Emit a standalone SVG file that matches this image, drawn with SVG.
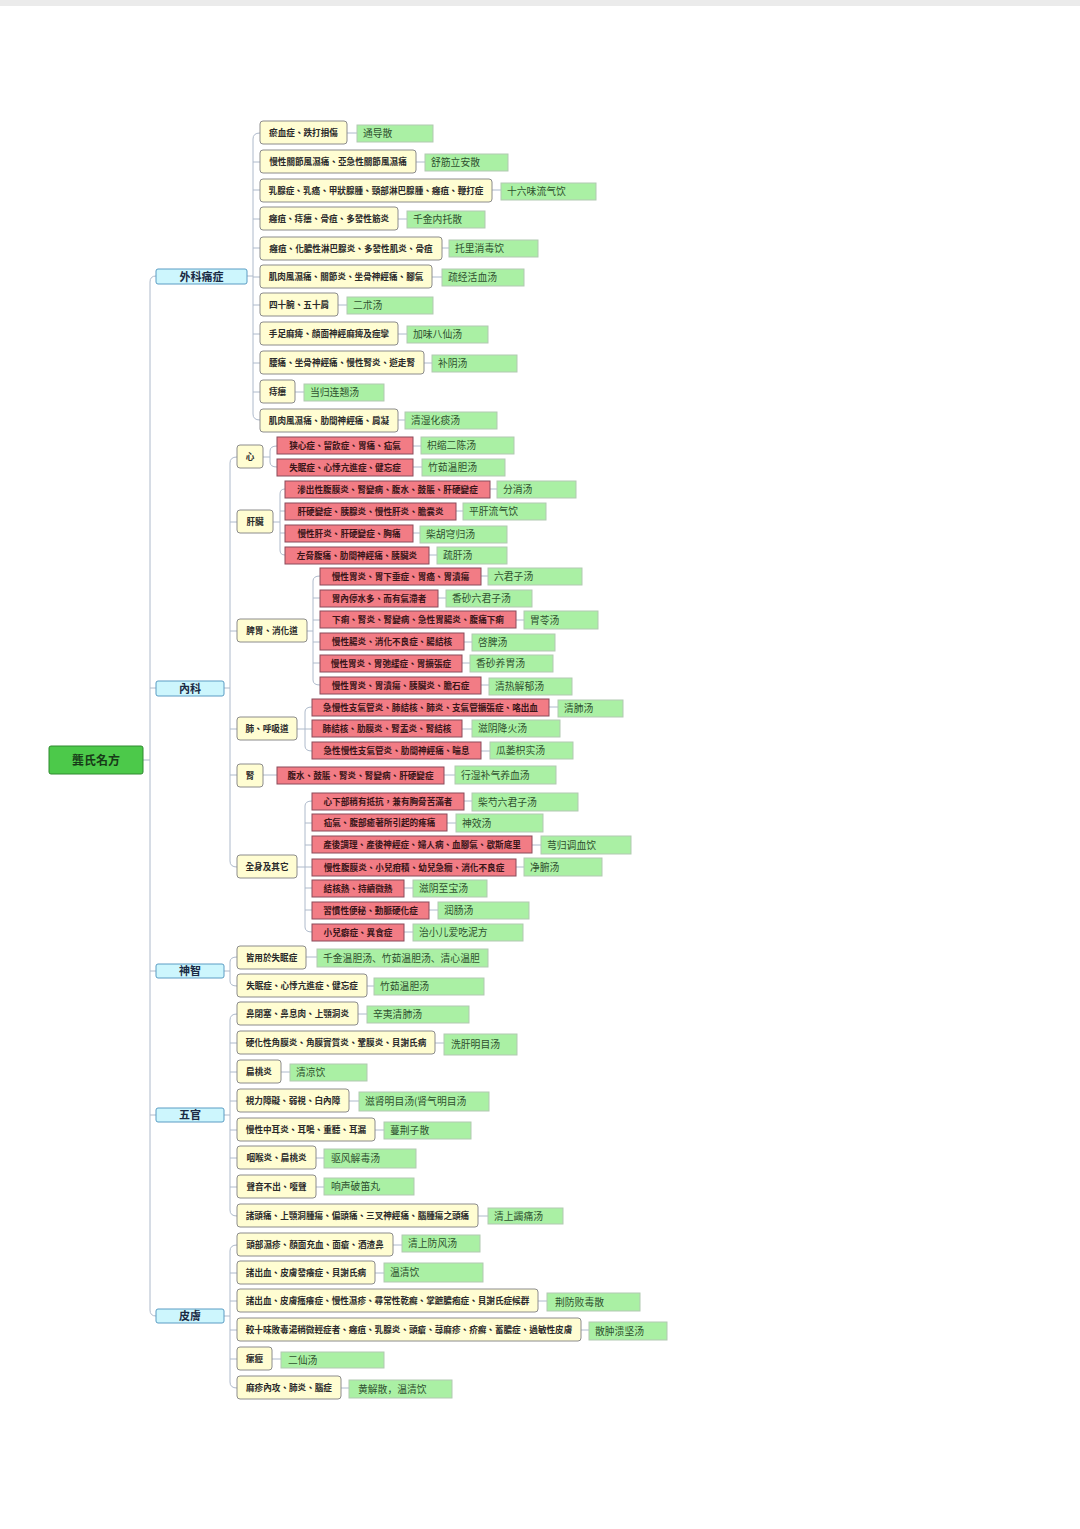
<svg xmlns="http://www.w3.org/2000/svg" width="1080" height="1529" viewBox="0 0 1080 1529">
<style>
.bg{fill:#ffffff}
.y{fill:#fffdd2;stroke:#8c8c8c;stroke-width:1}
.r{fill:#f27c85;stroke:#8a4a5a;stroke-width:1}
.g{fill:#aaf0a4;stroke:#b2c9b2;stroke-width:1}
.c{fill:#cdf6fd;stroke:#5a9cc4;stroke-width:1}
.rt{fill:#4cc94a;stroke:#2e8a2e;stroke-width:1}
.t{font-family:"Noto Sans CJK TC","Noto Sans CJK SC",sans-serif;font-size:8.6px;font-weight:bold;fill:#2a2a2a;text-anchor:middle}
.tr{fill:#3a1518}
.tg{font-family:"Noto Sans CJK SC","Noto Sans CJK TC",sans-serif;font-size:9.8px;fill:#2f502f}
.tc{font-family:"Noto Sans CJK TC","Noto Sans CJK SC",sans-serif;font-size:11px;font-weight:bold;fill:#1a2a44;text-anchor:middle}
.tt{font-family:"Noto Sans CJK TC","Noto Sans CJK SC",sans-serif;font-size:12px;font-weight:bold;fill:#173a17;text-anchor:middle}
.ln{fill:none;stroke:#aebacb;stroke-width:1}
</style>
<rect class="bg" x="0" y="0" width="1080" height="1529"/>
<rect x="0" y="0" width="1080" height="6" fill="#ebebeb"/>

<g id="connectors">
<path class="ln" d="M143,760 H150 M156,276 Q150,276 150,282 V1310 Q150,1316 156,1316 M150,688 H156 M150,971 H156 M150,1115 H156"/>
<path class="ln" d="M247,276 H253 M260,133 Q253,133 253,139 V414 Q253,420 260,420 M253,162 H260 M253,190 H260 M253,219 H260 M253,248 H260 M253,277 H260 M253,305 H260 M253,334 H260 M253,363 H260 M253,392 H260"/>
<path class="ln" d="M347,133 H357 M416,162 H425 M492,190 H501 M398,219 H407 M442,248 H449 M432,277 H442 M338,305 H347 M398,334 H407 M424,363 H432 M295,392 H304 M398,420 H405"/>
<path class="ln" d="M224,688 H230 M237,457 Q230,457 230,463 V861 Q230,867 237,867 M230,522 H237 M230,631 H237 M230,729 H237 M230,775 H237"/>
<path class="ln" d="M263,457 H270 M277,446 Q270,446 270,451 V462 Q270,467 277,467"/>
<path class="ln" d="M273,522 H280 M285,489 Q280,489 280,494 V550 Q280,555 285,555 M280,511 H285 M280,533 H285"/>
<path class="ln" d="M307,631 H313 M320,576 Q313,576 313,581 V680 Q313,685 320,685 M313,598 H320 M313,620 H320 M313,642 H320 M313,663 H320"/>
<path class="ln" d="M297,729 H305 M312,707 Q305,707 305,712 V746 Q305,751 312,751 M305,729 H312"/>
<path class="ln" d="M263,775 H277"/>
<path class="ln" d="M297,867 H305 M312,801 Q305,801 305,806 V927 Q305,932 312,932 M305,823 H312 M305,845 H312 M305,867 H312 M305,888 H312 M305,910 H312"/>
<path class="ln" d="M413,446 H421 M413,467 H422 M490,489 H497 M456,511 H463 M413,533 H420 M429,555 H437 M481,576 H488 M438,598 H446 M516,620 H524 M464,642 H472 M462,663 H470 M481,685 H489 M549,707 H558 M462,729 H472 M481,751 H490 M444,775 H455 M464,801 H472 M447,823 H456 M532,845 H541 M516,867 H524 M404,888 H413 M429,910 H438 M404,932 H413"/>
<path class="ln" d="M224,971 H230 M237,957 Q230,957 230,962 V981 Q230,986 237,986 M306,957 H317 M367,986 H374"/>
<path class="ln" d="M224,1115 H230 M237,1014 Q230,1014 230,1020 V1210 Q230,1216 237,1216 M230,1043 H237 M230,1072 H237 M230,1101 H237 M230,1130 H237 M230,1158 H237 M230,1187 H237"/>
<path class="ln" d="M358,1014 H367 M435,1043 H444 M281,1072 H290 M349,1101 H359 M375,1130 H384 M316,1158 H324 M316,1187 H324 M478,1216 H488"/>
<path class="ln" d="M224,1316 H230 M237,1245 Q230,1245 230,1251 V1382 Q230,1388 237,1388 M230,1273 H237 M230,1301 H237 M230,1330 H237 M230,1359 H237"/>
<path class="ln" d="M393,1245 H402 M375,1273 H384 M538,1301 H547 M581,1330 H589 M272,1359 H281 M341,1388 H349"/>
</g>

<g id="root"><rect class="rt" x="49" y="746" width="94" height="28" rx="2"/><text class="tt" x="96" y="764.5">龔氏名方</text></g>

<g id="waike"><rect class="c" x="156" y="269" width="91" height="15" rx="2"/><text class="tc" x="201.5" y="280.5">外科痛症</text></g>
<g id="neike"><rect class="c" x="156" y="681" width="68" height="15" rx="2"/><text class="tc" x="190" y="692.5">內科</text></g>
<g id="shenzhi"><rect class="c" x="156" y="964" width="68" height="14" rx="2"/><text class="tc" x="190" y="975">神智</text></g>
<g id="wuguan"><rect class="c" x="156" y="1108" width="68" height="14" rx="2"/><text class="tc" x="190" y="1119">五官</text></g>
<g id="pifu"><rect class="c" x="156" y="1309" width="68" height="14" rx="2"/><text class="tc" x="190" y="1320">皮膚</text></g>

<g id="w1"><rect class="y" x="260" y="121" width="87" height="23" rx="3"/><text class="t" x="303.5" y="135.7">瘀血症、跌打損傷</text><rect class="g" x="357" y="125" width="76" height="17"/><text class="tg" x="363" y="137.1">通导散</text></g>
<g id="w2"><rect class="y" x="260" y="150" width="156" height="23" rx="3"/><text class="t" x="338" y="164.7">慢性關節風濕痛、亞急性關節風濕痛</text><rect class="g" x="425" y="154" width="83" height="17"/><text class="tg" x="431" y="166.1">舒筋立安散</text></g>
<g id="w3"><rect class="y" x="260" y="179" width="232" height="23" rx="3"/><text class="t" x="376" y="193.7">乳腺症、乳癌、甲狀腺腫、頸部淋巴腺腫、癰疽、鞭打症</text><rect class="g" x="501" y="183" width="95" height="17"/><text class="tg" x="507" y="195.1">十六味流气饮</text></g>
<g id="w4"><rect class="y" x="260" y="207" width="138" height="23" rx="3"/><text class="t" x="329" y="221.7">癰疽、痔瘻、骨疽、多發性筋炎</text><rect class="g" x="407" y="211" width="78" height="17"/><text class="tg" x="413" y="223.1">千金内托散</text></g>
<g id="w5"><rect class="y" x="260" y="237" width="182" height="23" rx="3"/><text class="t" x="351" y="251.7">癰疽、化膿性淋巴腺炎、多發性肌炎、骨疽</text><rect class="g" x="449" y="240" width="89" height="17"/><text class="tg" x="455" y="252.1">托里消毒饮</text></g>
<g id="w6"><rect class="y" x="260" y="265" width="172" height="23" rx="3"/><text class="t" x="346" y="279.7">肌肉風濕痛、關節炎、坐骨神經痛、腳氣</text><rect class="g" x="442" y="269" width="82" height="17"/><text class="tg" x="448" y="281.1">疏经活血汤</text></g>
<g id="w7"><rect class="y" x="260" y="293" width="78" height="23" rx="3"/><text class="t" x="299" y="307.7">四十腕、五十肩</text><rect class="g" x="347" y="297" width="86" height="17"/><text class="tg" x="353" y="309.1">二朮汤</text></g>
<g id="w8"><rect class="y" x="260" y="322" width="138" height="23" rx="3"/><text class="t" x="329" y="336.7">手足麻痺、顔面神經麻痺及痙攣</text><rect class="g" x="407" y="326" width="81" height="17"/><text class="tg" x="413" y="338.1">加味八仙汤</text></g>
<g id="w9"><rect class="y" x="260" y="351" width="164" height="23" rx="3"/><text class="t" x="342" y="365.7">腰痛、坐骨神經痛、慢性腎炎、遊走腎</text><rect class="g" x="432" y="355" width="85" height="17"/><text class="tg" x="438" y="367.1">补阴汤</text></g>
<g id="w10"><rect class="y" x="260" y="380" width="35" height="23" rx="3"/><text class="t" x="277.5" y="394.7">痔瘻</text><rect class="g" x="304" y="384" width="80" height="17"/><text class="tg" x="310" y="396.1">当归连翘汤</text></g>
<g id="w11"><rect class="y" x="260" y="409" width="138" height="23" rx="3"/><text class="t" x="329" y="423.7">肌肉風濕痛、肋間神經痛、肩凝</text><rect class="g" x="405" y="412" width="92" height="17"/><text class="tg" x="411" y="424.1">清湿化痰汤</text></g>

<g id="xin"><rect class="y" x="237" y="445" width="26" height="23" rx="3"/><text class="t" x="250" y="459.7">心</text></g>
<g id="ganzang"><rect class="y" x="237" y="510" width="36" height="23" rx="3"/><text class="t" x="255" y="524.7">肝臟</text></g>
<g id="piwei"><rect class="y" x="237" y="619" width="70" height="23" rx="3"/><text class="t" x="272" y="633.7">脾胃、消化道</text></g>
<g id="fei"><rect class="y" x="237" y="717" width="60" height="23" rx="3"/><text class="t" x="267" y="731.7">肺、呼吸道</text></g>
<g id="shen"><rect class="y" x="237" y="764" width="26" height="23" rx="3"/><text class="t" x="250" y="778.7">腎</text></g>
<g id="quanshen"><rect class="y" x="237" y="855" width="60" height="23" rx="3"/><text class="t" x="267" y="869.7">全身及其它</text></g>

<g id="x1"><rect class="r" x="277" y="437" width="136" height="17"/><text class="t tr" x="345" y="448.7">狭心症、留飲症、胃痛、疝氣</text><rect class="g" x="421" y="437" width="93" height="17"/><text class="tg" x="427" y="449.1">枳缩二陈汤</text></g>
<g id="x2"><rect class="r" x="277" y="459" width="136" height="17"/><text class="t tr" x="345" y="470.7">失眠症、心悸亢進症、健忘症</text><rect class="g" x="422" y="459" width="83" height="17"/><text class="tg" x="428" y="471.1">竹茹温胆汤</text></g>
<g id="g1"><rect class="r" x="285" y="481" width="205" height="17"/><text class="t tr" x="387.5" y="492.7">滲出性腹膜炎、腎變病、腹水、鼓脹、肝硬變症</text><rect class="g" x="497" y="481" width="79" height="17"/><text class="tg" x="503" y="493.1">分消汤</text></g>
<g id="g2"><rect class="r" x="285" y="503" width="171" height="17"/><text class="t tr" x="370.5" y="514.7">肝硬變症、胰腺炎、慢性肝炎、膽囊炎</text><rect class="g" x="463" y="503" width="83" height="17"/><text class="tg" x="469" y="515.1">平肝流气饮</text></g>
<g id="g3"><rect class="r" x="285" y="525" width="128" height="17"/><text class="t tr" x="349" y="536.7">慢性肝炎、肝硬變症、胸痛</text><rect class="g" x="420" y="526" width="87" height="17"/><text class="tg" x="426" y="538.1">柴胡穹归汤</text></g>
<g id="g4"><rect class="r" x="285" y="547" width="144" height="17"/><text class="t tr" x="357" y="558.7">左脅腹痛、肋間神經痛、胰臟炎</text><rect class="g" x="437" y="547" width="70" height="17"/><text class="tg" x="443" y="559.1">疏肝汤</text></g>
<g id="p1"><rect class="r" x="320" y="568" width="161" height="17"/><text class="t tr" x="400.5" y="579.7">慢性胃炎、胃下垂症、胃癌、胃潰瘍</text><rect class="g" x="488" y="568" width="94" height="17"/><text class="tg" x="494" y="580.1">六君子汤</text></g>
<g id="p2"><rect class="r" x="320" y="590" width="118" height="17"/><text class="t tr" x="379" y="601.7">胃內停水多、而有氣滯者</text><rect class="g" x="446" y="590" width="86" height="17"/><text class="tg" x="452" y="602.1">香砂六君子汤</text></g>
<g id="p3"><rect class="r" x="320" y="611" width="196" height="17"/><text class="t tr" x="418" y="622.7">下痢、腎炎、腎變病、急性胃腸炎、腹痛下痢</text><rect class="g" x="524" y="611" width="74" height="18"/><text class="tg" x="530" y="623.6">胃苓汤</text></g>
<g id="p4"><rect class="r" x="320" y="633" width="144" height="17"/><text class="t tr" x="392" y="644.7">慢性腸炎、消化不良症、腸結核</text><rect class="g" x="472" y="634" width="83" height="17"/><text class="tg" x="478" y="646.1">啓脾汤</text></g>
<g id="p5"><rect class="r" x="320" y="655" width="142" height="17"/><text class="t tr" x="391" y="666.7">慢性胃炎、胃弛緩症、胃擴張症</text><rect class="g" x="470" y="655" width="83" height="17"/><text class="tg" x="476" y="667.1">香砂养胃汤</text></g>
<g id="p6"><rect class="r" x="320" y="677" width="161" height="17"/><text class="t tr" x="400.5" y="688.7">慢性胃炎、胃潰瘍、胰臟炎、膽石症</text><rect class="g" x="489" y="678" width="83" height="17"/><text class="tg" x="495" y="690.1">清热解郁汤</text></g>
<g id="f1"><rect class="r" x="312" y="699" width="237" height="17"/><text class="t tr" x="430.5" y="710.7">急慢性支氣管炎、肺結核、肺炎、支氣管擴張症、咯出血</text><rect class="g" x="558" y="700" width="65" height="17"/><text class="tg" x="564" y="712.1">清肺汤</text></g>
<g id="f2"><rect class="r" x="312" y="720" width="150" height="17"/><text class="t tr" x="387" y="731.7">肺結核、肋膜炎、腎盂炎、腎結核</text><rect class="g" x="472" y="720" width="88" height="17"/><text class="tg" x="478" y="732.1">滋阴降火汤</text></g>
<g id="f3"><rect class="r" x="312" y="742" width="169" height="17"/><text class="t tr" x="396.5" y="753.7">急性慢性支氣管炎、肋間神經痛、喘息</text><rect class="g" x="490" y="742" width="83" height="17"/><text class="tg" x="496" y="754.1">瓜蒌枳实汤</text></g>
<g id="s1"><rect class="r" x="277" y="767" width="167" height="17"/><text class="t tr" x="360.5" y="778.7">腹水、鼓脹、腎炎、腎變病、肝硬變症</text><rect class="g" x="455" y="766" width="101" height="18"/><text class="tg" x="461" y="778.6">行湿补气养血汤</text></g>
<g id="q1"><rect class="r" x="312" y="793" width="152" height="17"/><text class="t tr" x="388" y="804.7">心下部稍有抵抗，兼有胸脅苦滿者</text><rect class="g" x="472" y="793" width="106" height="18"/><text class="tg" x="478" y="805.6">柴芍六君子汤</text></g>
<g id="q2"><rect class="r" x="312" y="814" width="135" height="17"/><text class="t tr" x="379.5" y="825.7">疝氣、腹部癒著所引起的疼痛</text><rect class="g" x="456" y="814" width="87" height="18"/><text class="tg" x="462" y="826.6">神效汤</text></g>
<g id="q3"><rect class="r" x="312" y="836" width="220" height="17"/><text class="t tr" x="422" y="847.7">產後調理、產後神經症、婦人病、血腳氣、歇斯底里</text><rect class="g" x="541" y="836" width="90" height="18"/><text class="tg" x="547" y="848.6">芎归调血饮</text></g>
<g id="q4"><rect class="r" x="312" y="859" width="204" height="17"/><text class="t tr" x="414" y="870.7">慢性腹膜炎、小兒疳積、幼兒急癇、消化不良症</text><rect class="g" x="524" y="858" width="78" height="18"/><text class="tg" x="530" y="870.6">净腑汤</text></g>
<g id="q5"><rect class="r" x="312" y="880" width="92" height="17"/><text class="t tr" x="358" y="891.7">結核熱、持續微熱</text><rect class="g" x="413" y="880" width="74" height="17"/><text class="tg" x="419" y="892.1">滋阴至宝汤</text></g>
<g id="q6"><rect class="r" x="312" y="902" width="117" height="17"/><text class="t tr" x="370.5" y="913.7">習慣性便秘、動脈硬化症</text><rect class="g" x="438" y="902" width="91" height="17"/><text class="tg" x="444" y="914.1">润肠汤</text></g>
<g id="q7"><rect class="r" x="312" y="924" width="92" height="17"/><text class="t tr" x="358" y="935.7">小兒癖症、異食症</text><rect class="g" x="413" y="924" width="110" height="17"/><text class="tg" x="419" y="936.1">治小儿爱吃泥方</text></g>

<g id="sz1"><rect class="y" x="237" y="946" width="69" height="23" rx="3"/><text class="t" x="271.5" y="960.7">皆用於失眠症</text><rect class="g" x="317" y="949" width="171" height="18"/><text class="tg" x="323" y="961.6">千金温胆汤、竹茹温胆汤、清心温胆</text></g>
<g id="sz2"><rect class="y" x="237" y="974" width="130" height="23" rx="3"/><text class="t" x="302" y="988.7">失眠症、心悸亢進症、健忘症</text><rect class="g" x="374" y="978" width="110" height="17"/><text class="tg" x="380" y="990.1">竹茹温胆汤</text></g>

<g id="wg1"><rect class="y" x="237" y="1002" width="121" height="23" rx="3"/><text class="t" x="297.5" y="1016.7">鼻閉塞、鼻息肉、上顎洞炎</text><rect class="g" x="367" y="1006" width="102" height="17"/><text class="tg" x="373" y="1018.1">辛夷清肺汤</text></g>
<g id="wg2"><rect class="y" x="237" y="1031" width="198" height="23" rx="3"/><text class="t" x="336" y="1045.7">硬化性角膜炎、角膜實質炎、鞏膜炎、貝謝氏病</text><rect class="g" x="444" y="1034" width="73" height="21"/><text class="tg" x="451" y="1048.1">洗肝明目汤</text></g>
<g id="wg3"><rect class="y" x="237" y="1060" width="44" height="23" rx="3"/><text class="t" x="259" y="1074.7">扁桃炎</text><rect class="g" x="290" y="1064" width="77" height="17"/><text class="tg" x="296" y="1076.1">清凉饮</text></g>
<g id="wg4"><rect class="y" x="237" y="1089" width="112" height="23" rx="3"/><text class="t" x="293" y="1103.7">視力障礙、弱視、白內障</text><rect class="g" x="359" y="1092" width="130" height="19"/><text class="tg" x="365" y="1105.1">滋肾明目汤(肾气明目汤</text></g>
<g id="wg5"><rect class="y" x="237" y="1118" width="138" height="23" rx="3"/><text class="t" x="306" y="1132.7">慢性中耳炎、耳鳴、重聽、耳漏</text><rect class="g" x="384" y="1122" width="87" height="17"/><text class="tg" x="390" y="1134.1">蔓荆子散</text></g>
<g id="wg6"><rect class="y" x="237" y="1146" width="79" height="23" rx="3"/><text class="t" x="276.5" y="1160.7">咽喉炎、扁桃炎</text><rect class="g" x="324" y="1149" width="92" height="19"/><text class="tg" x="331" y="1162.1">驱风解毒汤</text></g>
<g id="wg7"><rect class="y" x="237" y="1175" width="79" height="23" rx="3"/><text class="t" x="276.5" y="1189.7">聲音不出、嗄聲</text><rect class="g" x="324" y="1178" width="90" height="17"/><text class="tg" x="331" y="1190.1">响声破笛丸</text></g>
<g id="wg8"><rect class="y" x="237" y="1204" width="241" height="23" rx="3"/><text class="t" x="357.5" y="1218.7">諸頭痛、上顎洞腫瘍、偏頭痛、三叉神經痛、腦腫瘍之頭痛</text><rect class="g" x="488" y="1208" width="75" height="16"/><text class="tg" x="494" y="1219.6">清上蠲痛汤</text></g>

<g id="pf1"><rect class="y" x="237" y="1233" width="156" height="23" rx="3"/><text class="t" x="315" y="1247.7">頭部濕疹、顏面充血、面瘡、酒渣鼻</text><rect class="g" x="402" y="1235" width="78" height="17"/><text class="tg" x="408" y="1247.1">清上防风汤</text></g>
<g id="pf2"><rect class="y" x="237" y="1261" width="138" height="23" rx="3"/><text class="t" x="306" y="1275.7">諸出血、皮膚發癢症、貝謝氏病</text><rect class="g" x="384" y="1263" width="99" height="19"/><text class="tg" x="390" y="1276.1">温清饮</text></g>
<g id="pf3"><rect class="y" x="237" y="1289" width="301" height="23" rx="3"/><text class="t" x="387.5" y="1303.7">諸出血、皮膚瘙癢症、慢性濕疹、尋常性乾癬、掌蹠膿疱症、貝謝氏症候群</text><rect class="g" x="547" y="1293" width="93" height="18"/><text class="tg" x="555" y="1305.6">荆防败毒散</text></g>
<g id="pf4"><rect class="y" x="237" y="1318" width="344" height="23" rx="3"/><text class="t" x="409" y="1332.7">較十味敗毒湯稍微輕症者、癰疽、乳腺炎、頭瘡、蕁麻疹、疥癬、蓄膿症、過敏性皮膚</text><rect class="g" x="589" y="1322" width="78" height="18"/><text class="tg" x="595" y="1334.6">散肿溃坚汤</text></g>
<g id="pf5"><rect class="y" x="237" y="1347" width="35" height="23" rx="3"/><text class="t" x="254.5" y="1361.7">瘰癧</text><rect class="g" x="281" y="1352" width="103" height="16"/><text class="tg" x="288" y="1363.6">二仙汤</text></g>
<g id="pf6"><rect class="y" x="237" y="1376" width="104" height="23" rx="3"/><text class="t" x="289" y="1390.7">麻疹內攻、肺炎、腦症</text><rect class="g" x="349" y="1380" width="103" height="18"/><text class="tg" x="358" y="1392.6">黄解散，温清饮</text></g>
</svg>
